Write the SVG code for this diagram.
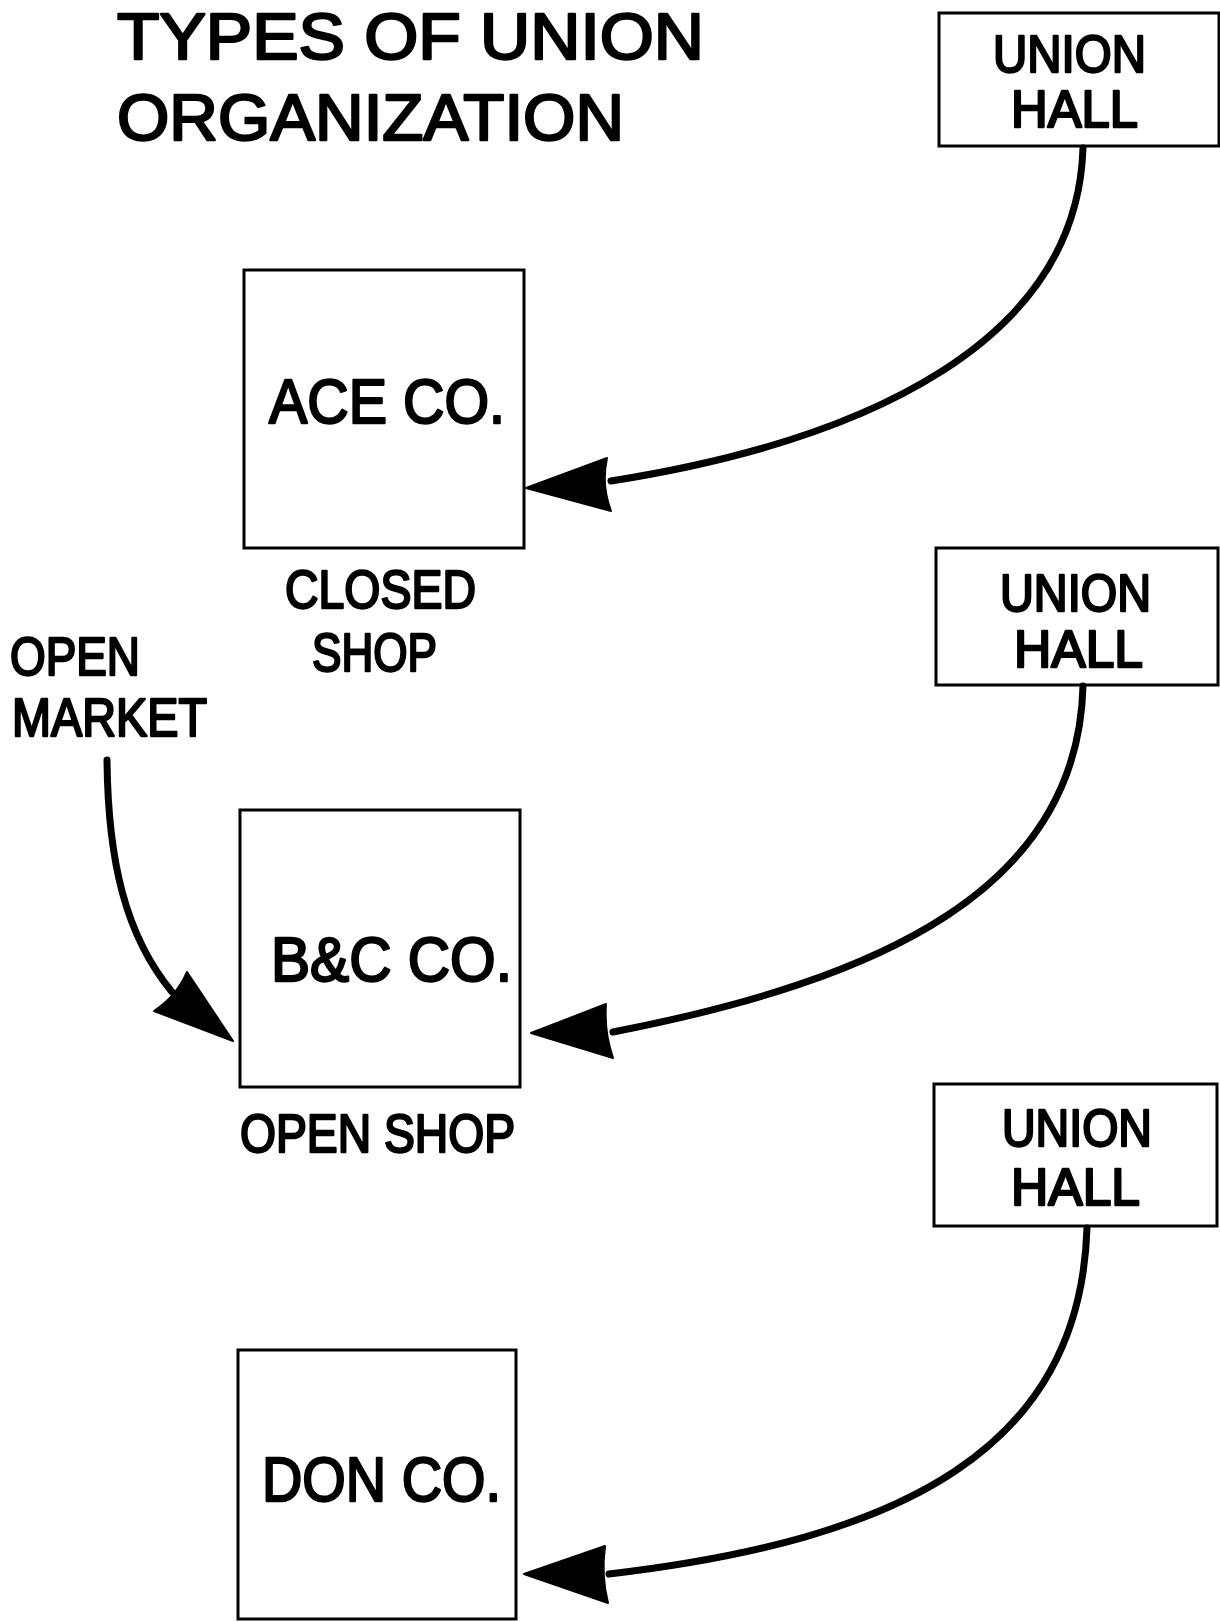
<svg xmlns="http://www.w3.org/2000/svg" width="1220" height="1622" viewBox="0 0 1220 1622">
  <style>
    .box { fill: #fff; stroke: #000; stroke-width: 3; }
    .lbl { font-family: "Liberation Sans", Arial, sans-serif; fill: #000; stroke: #000; stroke-width: 2.4; stroke-linejoin: round; }
    .title { font-size: 64px; stroke-width: 2.4; }
    .hall { font-size: 52px; }
    .co { font-size: 63px; }
    .sub { font-size: 53px; }
    .flow { fill: none; stroke: #000; stroke-width: 7; stroke-linecap: round; }
    .head { fill: #000; stroke: #000; stroke-width: 2; stroke-linejoin: round; }
  </style>
  <rect width="1220" height="1622" fill="#fff"/>

  <g id="title">
    <text class="lbl title" x="117" y="59" textLength="587" lengthAdjust="spacingAndGlyphs">TYPES OF UNION</text>
    <text class="lbl title" x="117" y="140" textLength="507" lengthAdjust="spacingAndGlyphs">ORGANIZATION</text>
  </g>

  <g id="union-hall-1">
    <rect class="box" x="939" y="13" width="280" height="133"/>
    <text class="lbl hall" x="993" y="72" textLength="153" lengthAdjust="spacingAndGlyphs">UNION</text>
    <text class="lbl hall" x="1011" y="127" textLength="127" lengthAdjust="spacingAndGlyphs">HALL</text>
  </g>

  <g id="union-hall-2">
    <rect class="box" x="936" y="548" width="282" height="137"/>
    <text class="lbl hall" x="1000" y="611" textLength="151" lengthAdjust="spacingAndGlyphs">UNION</text>
    <text class="lbl hall" x="1014" y="667" textLength="129" lengthAdjust="spacingAndGlyphs">HALL</text>
  </g>

  <g id="union-hall-3">
    <rect class="box" x="934" y="1084" width="283" height="142"/>
    <text class="lbl hall" x="1002" y="1146" textLength="150" lengthAdjust="spacingAndGlyphs">UNION</text>
    <text class="lbl hall" x="1011" y="1205" textLength="129" lengthAdjust="spacingAndGlyphs">HALL</text>
  </g>

  <g id="ace-co">
    <rect class="box" x="244" y="270" width="280" height="278"/>
    <text class="lbl co" x="269" y="423" textLength="236" lengthAdjust="spacingAndGlyphs">ACE CO.</text>
    <text class="lbl sub" x="285" y="608" textLength="191" lengthAdjust="spacingAndGlyphs">CLOSED</text>
    <text class="lbl sub" x="312" y="671" textLength="125" lengthAdjust="spacingAndGlyphs">SHOP</text>
  </g>

  <g id="open-market">
    <text class="lbl sub" x="10" y="675" textLength="130" lengthAdjust="spacingAndGlyphs">OPEN</text>
    <text class="lbl sub" x="12" y="736" textLength="195" lengthAdjust="spacingAndGlyphs">MARKET</text>
  </g>

  <g id="bc-co">
    <rect class="box" x="240" y="810" width="280" height="277"/>
    <text class="lbl co" x="271" y="981" textLength="241" lengthAdjust="spacingAndGlyphs">B&amp;C CO.</text>
    <text class="lbl sub" x="240" y="1152" textLength="275" lengthAdjust="spacingAndGlyphs">OPEN SHOP</text>
  </g>

  <g id="don-co">
    <rect class="box" x="238" y="1350" width="278" height="269"/>
    <text class="lbl co" x="262" y="1501" textLength="239" lengthAdjust="spacingAndGlyphs">DON CO.</text>
  </g>

  <g id="connectors">
    <!-- union hall 1 to Ace Co. -->
    <path class="flow" d="M1083,148 C1077,340 870,440 611,481"/>
    <path class="head" d="M526,488 L607,458 Q601,485 611,511 Z"/>
    <!-- union hall 2 to B&C Co. -->
    <path class="flow" d="M1083,686 C1078,890 880,980 613,1032"/>
    <path class="head" d="M531,1033 L606,1004 Q604,1032 613,1058 Z"/>
    <!-- union hall 3 to Don Co. -->
    <path class="flow" d="M1087,1228 C1080,1450 900,1540 609,1574"/>
    <path class="head" d="M524,1574 L605,1546 Q601,1575 608,1603 Z"/>
    <!-- open market to B&C Co. -->
    <path class="flow" d="M107,760 C108,860 125,935 172,992"/>
    <path class="head" d="M233,1041 L154,1011 Q176,997 187,972 Z"/>
  </g>
</svg>
